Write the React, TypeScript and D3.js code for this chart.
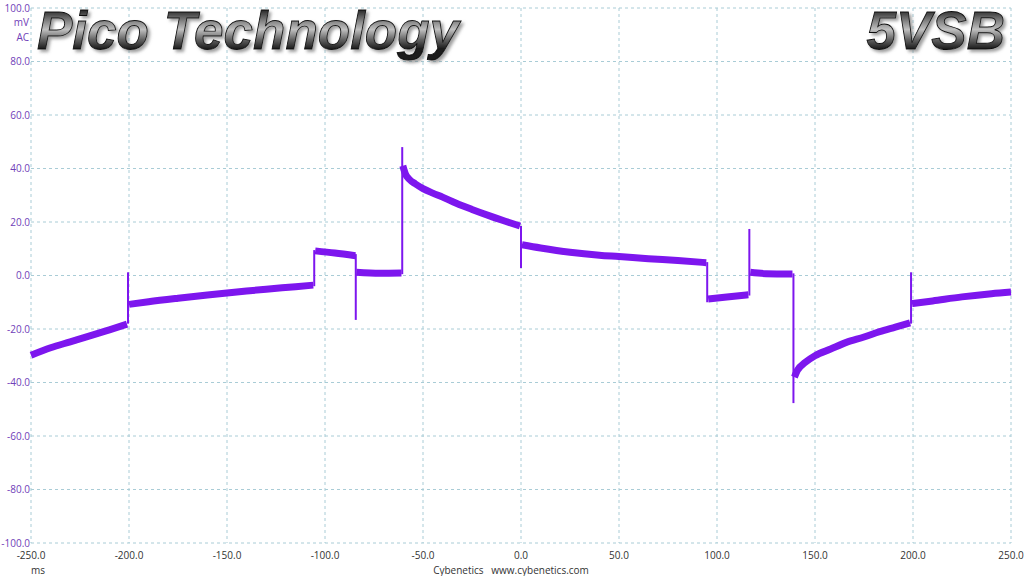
import React from "react";
import * as d3 from "d3";

const W = 1024;
const H = 576;

const xTicks = [-250, -200, -150, -100, -50, 0, 50, 100, 150, 200, 250];
const yTicks = [100, 80, 60, 40, 20, 0, -20, -40, -60, -80, -100];

// Trace segments [ms, mV]
const segA: [number, number][] = [[-250, -29.8], [-240, -27], [-230, -24.8], [-220, -22.6], [-210, -20.3], [-201, -18.2]];
const segB: [number, number][] = [[-200, -10.8], [-190, -9.8], [-175, -8.5], [-160, -7.3], [-145, -6.2], [-130, -5.1], [-115, -4.2], [-106, -3.6]];
const segC: [number, number][] = [[-105, 9.2], [-95, 8.4], [-84.5, 7.4]];
const segE: [number, number][] = [[-84, 1.2], [-72, 0.8], [-61, 0.9]];
const segF: [number, number][] = [[-60.3, 41], [-59, 38], [-57, 36], [-54, 34.3], [-50, 32.5], [-45, 30.8], [-40, 29.3], [-33, 27], [-25, 24.7], [-16, 22.3], [-8, 20.3], [-0.5, 18.5]];
const segG: [number, number][] = [[0.5, 11.5], [10, 10.3], [25, 8.7], [40, 7.6], [50, 7.1], [65, 6.3], [80, 5.6], [94.5, 4.8]];
const segH: [number, number][] = [[95.5, -8.8], [105, -8], [116, -7.2]];
const segI: [number, number][] = [[117, 1.2], [125, 0.7], [138.5, 0.6]];
const segJ: [number, number][] = [[139.5, -38], [141, -35.5], [145, -32.5], [150, -30], [158, -27.5], [166, -25], [175, -23], [183, -21], [191, -19.3], [198.5, -17.7]];
const segK: [number, number][] = [[199.5, -10.5], [210, -9.5], [225, -8], [240, -6.8], [250, -6.2]];
const segments = [segA, segB, segC, segE, segF, segG, segH, segI, segJ, segK];

// Spikes [ms, min mV, max mV]
const spikes: [number, number, number][] = [
  [-200.5, -18, 1.2],
  [-105.5, -4, 9.5],
  [-84.3, -16.6, 8],
  [-60.6, 0.5, 48],
  [0, 2.8, 18.5],
  [95, -10, 5],
  [116.5, -7.5, 17.4],
  [139, -47.7, 0.8],
  [199, -18, 1.2],
];

const x = d3.scaleLinear().domain([-250, 250]).range([31, 1011]);
const y = d3.scaleLinear().domain([-100, 100]).range([543, 8]);

const TRACE = "#7d16ee";
const GRID = "#a9ccd6";
const YLAB = "#7040b8";
const FONT = "'Open Sans', 'Noto Sans', sans-serif";

export default function App() {
  const line = d3
    .line<[number, number]>()
    .x((d) => x(d[0]))
    .y((d) => y(d[1]))
    .curve(d3.curveMonotoneX);

  return (
    <svg width={W} height={H} style={{ position: "absolute", left: 0, top: 0, background: "#fff" }}>
      <defs>
        <linearGradient id="tg" x1="0" y1="10" x2="0" y2="49" gradientUnits="userSpaceOnUse">
          <stop offset="0%" stopColor="#2a2a2a" />
          <stop offset="30%" stopColor="#888" />
          <stop offset="50%" stopColor="#c0c0c0" />
          <stop offset="75%" stopColor="#666" />
          <stop offset="100%" stopColor="#1a1a1a" />
        </linearGradient>
        <filter id="sh" x="-5%" y="-20%" width="110%" height="150%">
          <feDropShadow dx="2.5" dy="2.5" stdDeviation="1.5" floodColor="#777" floodOpacity="0.7" />
        </filter>
      </defs>

      {/* grid */}
      {xTicks.map((t) => (
        <line key={"gx" + t} x1={x(t)} x2={x(t)} y1={y(100)} y2={y(-100)} stroke={GRID} strokeDasharray="3,3" strokeWidth={1} />
      ))}
      {yTicks.map((t) => (
        <line key={"gy" + t} x1={x(-250)} x2={x(250)} y1={y(t)} y2={y(t)} stroke={GRID} strokeDasharray="3,3" strokeWidth={1} />
      ))}

      {/* title */}
      <g fontFamily="'Liberation Sans', Arial, sans-serif" fontStyle="italic" fontWeight="bold" fontSize={53} filter="url(#sh)">
        <text x={37} y={49} fill="url(#tg)" stroke="#111" strokeWidth={0.9}>Pico Technology</text>
        <text x={1005} y={49} textAnchor="end" fill="url(#tg)" stroke="#111" strokeWidth={0.9}>5VSB</text>
      </g>

      {/* y labels */}
      <g fontFamily={FONT} fontSize={10} fill={YLAB} textAnchor="end">
        {yTicks.map((t) => (
          <text key={"yl" + t} x={30} y={y(t) + 3.5}>{t.toFixed(1)}</text>
        ))}
        <text x={29} y={26}>mV</text>
        <text x={29} y={41}>AC</text>
      </g>

      {/* x labels */}
      <g fontFamily={FONT} fontSize={10} fill="#333" textAnchor="middle">
        {xTicks.map((t) => (
          <text key={"xl" + t} x={x(t)} y={559}>{t.toFixed(1)}</text>
        ))}
        <text x={38} y={574}>ms</text>
        <text x={511} y={574} xmlSpace="preserve">Cybenetics   www.cybenetics.com</text>
      </g>

      {/* trace */}
      <g>
        {spikes.map((s, i) => (
          <line key={"sp" + i} x1={x(s[0])} x2={x(s[0])} y1={y(s[1])} y2={y(s[2])} stroke={TRACE} strokeWidth={2} />
        ))}
        {segments.map((s, i) => (
          <path key={"sg" + i} d={line(s) || ""} fill="none" stroke={TRACE} strokeWidth={7} strokeLinejoin="round" />
        ))}
      </g>
    </svg>
  );
}
